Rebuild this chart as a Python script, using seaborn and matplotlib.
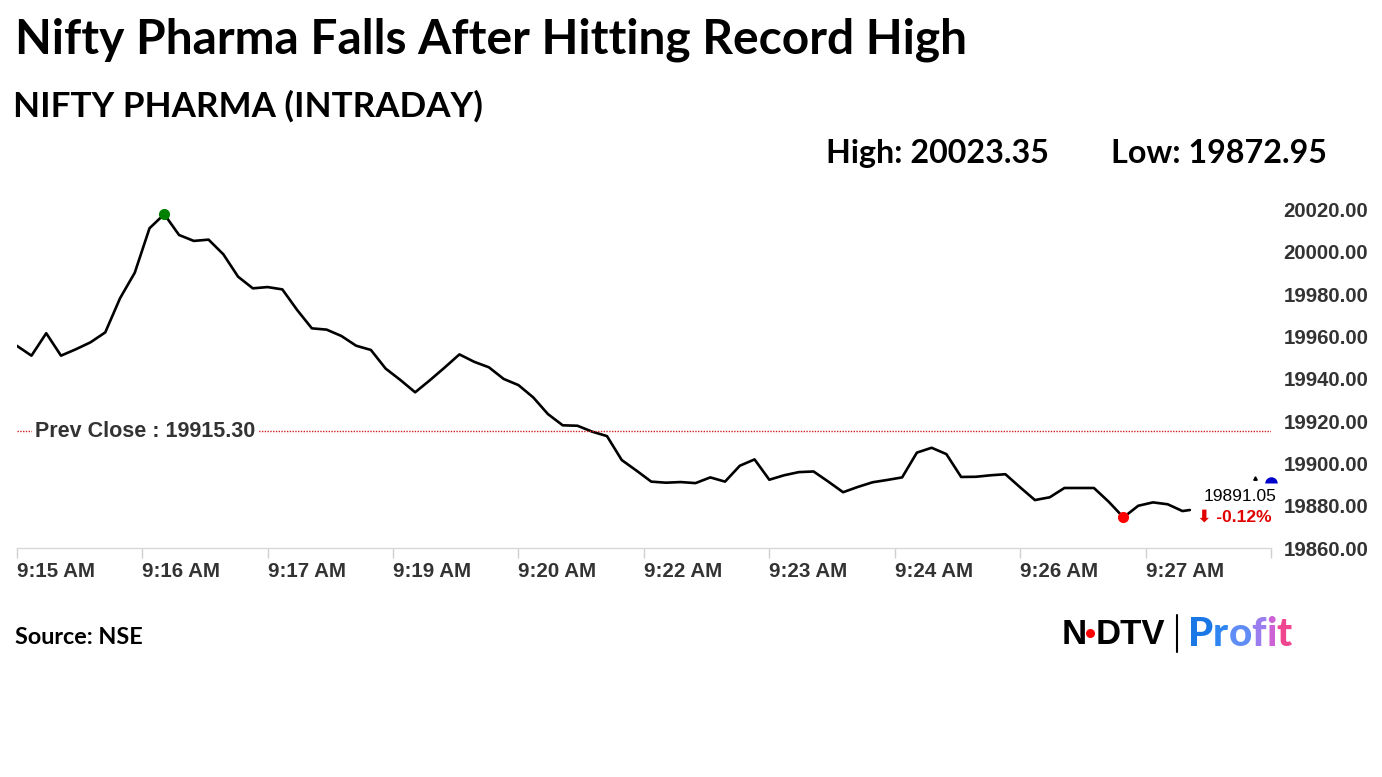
import matplotlib
matplotlib.use('Agg')
import matplotlib.pyplot as plt
from matplotlib.lines import Line2D
import seaborn as sns
import numpy as np
import pandas as pd

# NIFTY PHARMA intraday readings, one every 10 s from 9:15:00 (last one is the live tick)
seconds = list(range(0, 800, 10)) + [795]
prices = [19955.7, 19951.0, 19961.6, 19951.0, 19954.0, 19957.3, 19962.0, 19978.1, 19990.2, 20011.2,
          20017.8, 20008.0, 20005.2, 20005.8, 19998.9, 19988.3, 19982.8, 19983.4, 19982.3, 19972.6,
          19963.9, 19963.3, 19960.3, 19955.7, 19953.7, 19944.9, 19939.5, 19933.7, 19939.4, 19945.4,
          19951.6, 19948.1, 19945.5, 19940.0, 19937.1, 19931.3, 19923.4, 19918.1, 19917.9, 19915.1,
          19913.0, 19901.7, 19896.7, 19891.5, 19891.0, 19891.3, 19890.8, 19893.5, 19891.5, 19899.0,
          19902.0, 19892.4, 19894.5, 19896.0, 19896.3, 19891.5, 19886.5, 19889.0, 19891.2, 19892.3,
          19893.5, 19905.2, 19907.5, 19904.5, 19893.7, 19893.8, 19894.5, 19895.0, 19888.8, 19882.8,
          19884.1, 19888.5, 19888.5, 19888.5, 19882.0, 19874.6, 19880.1, 19881.7, 19880.8, 19877.6,
          19878.1]
tick_labels = ['9:15 AM', '9:16 AM', '9:17 AM', '9:19 AM', '9:20 AM',
               '9:22 AM', '9:23 AM', '9:24 AM', '9:26 AM', '9:27 AM']
y_ticks = [19860, 19880, 19900, 19920, 19940, 19960, 19980, 20000, 20020]
prev_close = 19915.30
day_high = 20023.35
day_low = 19872.95
last_price = 19891.05
pct_change = -0.12

df = pd.DataFrame({'sec': seconds, 'price': prices})

sns.set_style('white')
plt.rcParams['font.family'] = ['Liberation Sans', 'DejaVu Sans']

fig = plt.figure(figsize=(13.82, 7.77), dpi=100)
ax = fig.add_axes([0.0121, 0.2943, 0.9076, 0.4496])

sns.lineplot(data=df, x='sec', y='price', color='black', linewidth=1.9, ax=ax)

# high / low markers
imax = df['price'].idxmax()
imin = df['price'].idxmin()
ax.plot(df.loc[imax, 'sec'], df.loc[imax, 'price'], 'o', color='green', ms=7, zorder=5)
ax.plot(df.loc[imin, 'sec'], df.loc[imin, 'price'], 'o', color='red', ms=7, zorder=5)

# previous close
ax.axhline(prev_close, color='#cc2222', lw=1.0, ls=(0, (1, 1)))
ax.text(0.0146, prev_close, f'Prev Close : {prev_close:.2f}', transform=ax.get_yaxis_transform(),
        ha='left', va='center', fontsize=15.5, fontweight='bold', color='#333333',
        bbox=dict(facecolor='white', edgecolor='none', pad=2))

# live price tag at right edge
ax.plot(850, last_price, 'o', color='#0000cc', ms=9, fillstyle='top',
        markerfacecoloralt='none', markeredgewidth=0, clip_on=False, zorder=6)
ax.plot(839, last_price + 2, '^', color='black', ms=2.5, clip_on=False)
ax.text(804, last_price - 6.5, f'{last_price:.2f}', ha='left', va='center',
        fontsize=12.5, color='black', clip_on=False)
ax.text(800, last_price - 16.5, f'\u2B07 {pct_change:.2f}%', ha='left', va='center',
        fontsize=12.5, fontweight='bold', color='#e00000', clip_on=False)

ax.set_xlim(0, 850)
ax.set_ylim(19860, 20025)
ax.set_xticks(np.arange(0, 851, 85))
ax.set_xticklabels(tick_labels + [''])
for lab in ax.get_xticklabels():
    lab.set_horizontalalignment('left')
ax.set_xlabel('')
ax.set_ylabel('')
ax.yaxis.tick_right()
ax.set_yticks(y_ticks)
ax.set_yticklabels([f'{v:.2f}' for v in y_ticks])
ax.tick_params(axis='x', length=7, width=1, color='#d0d0d0', pad=3,
               labelsize=14.8, labelcolor='#333333', bottom=True)
ax.tick_params(axis='y', length=0, pad=9, labelsize=14.7, labelcolor='#333333')
for lab in ax.get_xticklabels() + ax.get_yticklabels():
    lab.set_fontweight('bold')
for s in ['top', 'left', 'right']:
    ax.spines[s].set_visible(False)
ax.spines['bottom'].set_color('#d8d8d8')
ax.spines['bottom'].set_linewidth(1)

# headings
head = ['Lato', 'DejaVu Sans']
fig.text(0.0109, 0.949, 'Nifty Pharma Falls After Hitting Record High', family=head,
         fontsize=34.5, fontweight='bold', color='black', va='center')
fig.text(0.0094, 0.8636, 'NIFTY PHARMA (INTRADAY)', family=head,
         fontsize=25.2, fontweight='bold', color='black', va='center')
fig.text(0.5977, 0.803, f'High: {day_high:.2f}', family=head,
         fontsize=23.2, fontweight='bold', color='black', va='center')
fig.text(0.8040, 0.803, f'Low: {day_low:.2f}', family=head,
         fontsize=23.2, fontweight='bold', color='black', va='center')
fig.text(0.0109, 0.180, 'Source: NSE', family=head,
         fontsize=16.8, fontweight='bold', color='black', va='center')

# logo
logo_y = 1 - 634 / 777
logo_font = ['Liberation Sans', 'DejaVu Sans']
fig.text(1062 / 1382, logo_y, 'N', family=logo_font,
         fontsize=25, fontweight='heavy', color='black', va='center')
fig.text(1096 / 1382, logo_y, 'DTV', family=logo_font,
         fontsize=25, fontweight='heavy', color='black', va='center')
fig.add_artist(Line2D([1090 / 1382], [1 - 633 / 777], marker='o', ms=5.5, color='red',
                      transform=fig.transFigure, zorder=10))
fig.add_artist(Line2D([1177 / 1382] * 2, [1 - 615 / 777, 1 - 652 / 777],
                      color='black', lw=1.5, transform=fig.transFigure))
profit_colors = ['#1a78e6', '#2f86f2', '#5f8cf5', '#9a7ef0', '#cd62d4', '#f0468f']
fig.canvas.draw()
rend = fig.canvas.get_renderer()
word = 'Profit'
x0 = 1188 / 1382
for k, (ch, col) in enumerate(zip(word, profit_colors)):
    off = 0
    if k:
        tmp = fig.text(0, 0, word[:k], family=head, fontsize=29, fontweight='black')
        off = tmp.get_window_extent(rend).width / fig.bbox.width
        tmp.remove()
    fig.text(x0 + off, logo_y, ch, family=head, fontsize=29, fontweight='black',
             color=col, va='center')

fig.savefig('out.png', dpi=100, facecolor='white')
